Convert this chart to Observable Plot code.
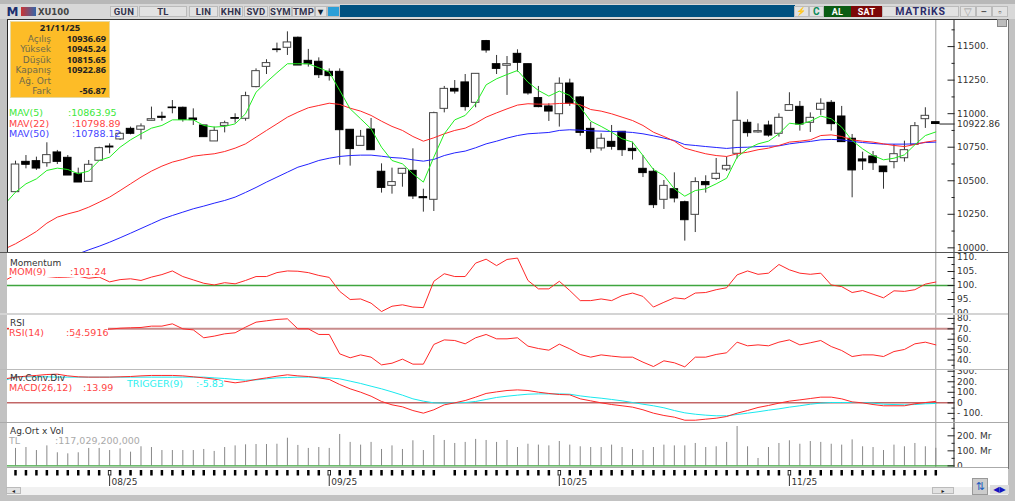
<!DOCTYPE html>
<html><head><meta charset="utf-8">
<script src="https://cdn.jsdelivr.net/npm/d3@7"></script>
<script src="https://cdn.jsdelivr.net/npm/@observablehq/plot@0.6"></script>
<style>
html,body{margin:0;padding:0;background:#c2c2c2;overflow:hidden}
#root{position:relative;width:1015px;height:501px;overflow:hidden;font-family:"DejaVu Sans",sans-serif}
#root>*{position:absolute}
.b{box-sizing:border-box;display:flex;align-items:center;justify-content:center;white-space:nowrap}
</style></head><body><div id="root"></div>
<script>
const open=[10415,10641,10646,10631,10711,10671,10552,10492,10649,10755,10808,10887,10880,10947,10977,11046,11044,10964,10912,10793,10909,10967,10962,11198,11349,11479,11491,11566,11394,11387,11312,11312,10880,10760,10882,10567,10462,10552,10574,10378,10358,11036,11185,11233,11081,11541,11369,11357,11446,11369,11116,11054,10996,11225,11121,10887,10741,10790,10865,10738,10589,10567,10358,10437,10340,10246,10490,10514,10584,10701,10932,10860,10912,10850,11021,11051,10932,11029,11081,10979,10813,10659,10681,10606,10639,10668,10768,10959,10936.69];
const close=[10621,10619,10591,10691,10641,10539,10487,10619,10743,10748,10850,10850,10905,10959,10969,11041,10954,10952,10825,10872,10929,10962,11131,11317,11377,11474,11531,11359,11369,11287,11280,10877,10736,10828,10728,10447,10490,10589,10383,10370,11004,11185,11165,11049,11297,11471,11334,11369,11379,11151,11049,11016,11223,11074,10857,10736,10813,10753,10728,10721,10557,10318,10462,10368,10206,10490,10467,10552,10611,10947,10855,10870,10837,10969,11064,10919,10969,11074,10922,10788,10577,10644,10631,10564,10698,10728,10907,10984,10922.86];
const high=[10646,10688,10676,10783,10726,10688,10594,10651,10750,10775,10862,10900,10924,11049,11011,11098,11049,11036,10912,10900,10944,10999,11160,11334,11402,11526,11610,11571,11479,11416,11334,11334,10880,10875,10964,10626,10594,10589,10738,10437,11011,11203,11247,11292,11297,11546,11434,11426,11476,11369,11203,11074,11267,11257,11128,10934,10850,10912,10865,10788,10688,10589,10502,10559,10348,10522,10537,10666,10676,11163,10954,10924,10944,10999,11156,11091,11006,11111,11098,11054,10845,10713,10718,10606,10770,10795,10934,11044,10936.69];
const low=[10415,10589,10577,10601,10621,10539,10487,10492,10649,10701,10800,10842,10805,10947,10944,10999,10937,10912,10825,10793,10857,10929,10944,11193,11292,11454,11434,11359,11347,11262,11243,10616,10609,10760,10728,10408,10400,10452,10360,10266,10271,11006,11146,11019,11044,11451,11292,11136,11310,11138,11044,10942,10900,11054,10832,10706,10721,10728,10681,10654,10524,10293,10286,10335,10050,10114,10408,10502,10569,10663,10825,10855,10825,10825,11021,10870,10860,10987,10870,10788,10373,10577,10577,10437,10589,10639,10768,10890,10922.86];
const mav5=[10328,10415,10477,10514,10577,10594,10584,10552,10572,10651,10676,10750,10805,10850,10892,10912,10954,10954,10954,10912,10900,10905,10924,10999,11160,11235,11305,11372,11372,11372,11342,11310,11173,11036,10962,10887,10750,10651,10626,10552,10490,10676,10850,10954,10987,11074,11215,11260,11292,11322,11235,11173,11131,11168,11136,11049,10944,10905,10862,10813,10788,10688,10584,10539,10440,10385,10427,10440,10477,10519,10676,10738,10775,10795,10850,10929,10919,10944,10982,10962,10900,10800,10738,10688,10656,10668,10693,10768,10837,10863.95];
const mav22=[9993,10030,10075,10122,10184,10229,10253,10273,10303,10340,10378,10427,10477,10527,10572,10609,10639,10659,10683,10693,10701,10718,10743,10775,10825,10875,10924,10974,11011,11044,11061,11078,11069,11041,11019,10987,10944,10905,10875,10830,10795,10820,10850,10875,10892,10929,10974,11006,11036,11064,11074,11071,11071,11076,11078,11066,11031,11019,10999,10974,10949,10912,10862,10830,10795,10743,10721,10701,10688,10681,10701,10713,10731,10743,10763,10788,10795,10805,10837,10842,10830,10805,10795,10788,10775,10763,10755,10770,10788,10798.89];
const mav50Start=6;
const mav50=[9955,9985,10012,10042,10075,10109,10144,10179,10214,10241,10266,10291,10311,10333,10353,10378,10413,10450,10490,10527,10564,10601,10624,10651,10668,10681,10688,10691,10691,10683,10673,10668,10656,10646,10659,10688,10708,10721,10746,10775,10795,10818,10837,10850,10855,10860,10875,10880,10877,10872,10870,10867,10865,10860,10850,10835,10818,10800,10770,10763,10755,10748,10741,10748,10750,10755,10758,10760,10775,10785,10793,10805,10808,10805,10793,10785,10778,10773,10773,10773,10775,10785,10788.12];
const momentum=[101.8,103.9,104.2,103.9,103.2,102.9,103.0,103.3,102.6,103.0,101.3,102.1,102.4,101.8,103.0,103.9,105.2,103.2,102.0,100.8,100.2,101.0,100.6,101.8,103.2,103.2,104.6,105.2,105.1,104.6,103.6,102.9,97.9,95.0,95.2,93.7,90.7,92.6,93.1,92.3,92.1,101.5,104.2,103.2,103.2,108.0,109.4,107.1,109.3,109.8,101.8,98.8,98.8,101.5,98.2,94.6,94.6,95.2,94.6,96.4,97.3,96.1,92.3,94.0,95.6,95.2,97.3,97.5,98.5,99.2,103.8,105.2,104.0,104.4,107.5,105.6,104.4,104.0,104.4,100.2,99.6,97.5,98.2,96.9,95.6,98.1,97.9,98.5,100.5,101.24];
const rsi=[70,71,67.8,65.2,66.8,65.2,63.6,62,65.2,68.4,69.7,70.6,71,71.3,72.6,72.6,74.8,70,69,61.4,63,65.2,66.2,71.6,76.4,77.7,79,79.6,70,70,64.6,64.6,46,42.2,45,42.8,35.4,37,40.9,36.1,36.1,55,59.4,58.8,55.6,61.4,64.6,60.4,60.4,61.4,53.4,51.1,49.5,55.3,50.8,45.4,42.8,45,43.8,42.8,42.8,38,33.8,39.3,37.4,33.5,42.8,42.8,45.4,47,57.2,53.7,54.6,53.7,57.2,59.4,54.6,56.6,58.8,53,49.2,43.4,45,45,43.4,48.2,50.2,55.6,57.2,54.59];
const macd=[228,244,253,260,269,272,256,247,244,244,244,247,250,256,260,260,260,256,247,237,225,206,190,203,222,237,253,266,256,250,237,222,174,133,101,63,13,-19,-38,-73,-98,-66,-19,0,22,54,89,104,117,123,117,101,89,79,76,38,19,0,-16,-28,-41,-66,-98,-120,-136,-165,-165,-155,-146,-130,-98,-73,-44,-25,-3,16,28,41,54,54,38,9,0,-16,-28,-28,-28,-9,3,13.99];
const trigger=[212,250,247,247,247,244,244,244,244,244,244,244,244,244,244,244,244,244,244,244,237,231,222,215,218,228,237,240,244,244,244,237,228,206,184,158,133,104,73,38,16,0,-3,0,3,13,32,51,63,73,82,85,85,85,82,66,54,44,32,19,3,-13,-28,-47,-73,-95,-108,-117,-123,-123,-111,-98,-85,-70,-57,-41,-28,-13,-3,3,3,3,3,-3,-13,-16,-19,-16,-9,-5.83];
const volume=[116,122,102,133,87,80,87,116,116,102,113,91,127,122,102,102,102,102,109,96,122,133,140,142,142,144,184,136,116,122,116,209,156,138,156,109,133,109,167,102,202,169,149,156,176,169,156,169,122,144,138,133,162,138,127,122,122,138,122,109,102,122,138,133,133,149,122,127,156,262,127,49,122,149,167,144,162,156,144,138,173,127,122,102,138,127,149,127,117.03];
const monthStarts=[9,30,52,74];
const monthLabels=["08/25","09/25","10/25","11/25"];
const skippedTick=41;
const priceTicks=[10000,10250,10500,10750,11000,11250,11500];
const priceMinor=[10125,10375,10625,10875,11125,11375,11625];
const momTicks=[90,95,100,105,110];
const momMinor=[92.5,97.5,102.5,107.5];
const rsiTicks=[40,50,60,70,80];
const rsiMinor=[35,45,55,65,75];
const macdTicks=[-100,0,100,200,300];
const macdMinor=[-150,-50,50,150,250];
const volTicks=[0,100,200];
const volMinor=[50,150,250];

const lastPrice=10922.86;
const N=close.length;
const xDomain=[-0.765,89.74];
const series=(arr,start)=>arr.map((v,k)=>({i:k+start,v}));
const candles=d3.range(N).map(i=>({i,o:open[i],c:close[i],h:high[i],l:low[i],up:close[i]>=open[i]}));
const bw=0.36;
const root=document.getElementById("root");
const FONT='"DejaVu Sans",sans-serif';

function panel(top,height,yDomain,marks){
  const p=Plot.plot({width:1001,height,marginTop:0,marginBottom:0,marginLeft:0,marginRight:54.5,
    x:{domain:xDomain,axis:null,label:null},y:{domain:yDomain,axis:null,label:null},
    style:{fontFamily:FONT,fontSize:"9px",background:"white",color:"#333",overflow:"hidden"},
    marks});
  p.style.left="7px";p.style.top=top+"px";p.style.position="absolute";
  root.appendChild(p);return p;
}
const cursor=Plot.ruleX([88],{stroke:"#999",strokeWidth:1});
const spine=Plot.ruleX([xDomain[1]],{stroke:"#222",strokeWidth:1});
function axes(ticks,minor,fmt){return [
  Plot.axisY(ticks,{anchor:"right",label:null,tickSize:-7,tickPadding:10,tickFormat:fmt,stroke:"#222",fill:"#333"}),
  Plot.axisY(minor,{anchor:"right",label:null,tickSize:-3,tickPadding:10,tickFormat:()=>"",stroke:"#222"})
];}
const dotted=d=>d+".";
const line=(arr,start,stroke,w=1)=>Plot.line(series(arr,start),{x:"i",y:"v",stroke,strokeWidth:w,clip:true,curve:"linear"});

// main
panel(19,233,[9965.2,11702],[
  cursor,spine,
  Plot.ruleX(candles,{x:"i",y1:"l",y2:"h",stroke:"#333",strokeWidth:1}),
  Plot.rect(candles,{x1:d=>d.i-bw,x2:d=>d.i+bw,y1:d=>Math.min(d.o,d.c),y2:d=>Math.max(d.o,d.c),
    fill:d=>d.up?"white":"black",stroke:d=>d.up?"#444":"black",strokeWidth:1}),
  line(mav50,mav50Start,"#2222ff"),
  line(mav22,-1,"#ff2828"),
  line(mav5,-1,"#22ee22"),
  ...axes(priceTicks,priceMinor,dotted),
  Plot.axisY([lastPrice],{anchor:"right",label:null,tickSize:-15,tickPadding:18,tickFormat:d=>d.toFixed(2),stroke:"#222",fill:"#333"})
]);
// momentum
panel(253,60,[90,111.43],[
  cursor,spine,
  Plot.ruleY([100],{stroke:"#3fa53f",strokeWidth:1.4}),
  line(momentum,-1,"#ff2828"),
  ...axes(momTicks,momMinor,dotted)
]);
// RSI
panel(315,54,[30.96,82.8],[
  cursor,spine,
  Plot.ruleY([70],{stroke:"#c88c8c",strokeWidth:2}),
  line(rsi,-1,"#ff2828"),
  ...axes(rsiTicks,rsiMinor,dotted)
]);
// MACD
panel(370,52,[-186.7,307],[
  cursor,spine,
  Plot.ruleY([0],{stroke:"#a51c1c",strokeWidth:1}),
  line(trigger,-1,"#19e8ee"),
  line(macd,-1,"#ff2828"),
  ...axes(macdTicks,macdMinor,d=>d===0?"0":(d<0?"- "+(-d)+".":d+"."))
]);
// volume
panel(423,44,[-11,282],[
  cursor,spine,
  Plot.ruleX(volume.map((v,i)=>({i,v})),{x:"i",y1:0,y2:"v",stroke:"#888",strokeWidth:1}),
  Plot.ruleY([0],{stroke:"#3fa53f",strokeWidth:1.4}),
  ...axes(volTicks,volMinor,d=>d===0?"0":d+". Mr")
]);
// date axis
const dateTicks=d3.range(N).filter(i=>i!==skippedTick&&!monthStarts.includes(i));
panel(468,19,[0,1],[
  Plot.tickX(dateTicks,{x:d=>d,stroke:"black",strokeWidth:2.5,insetTop:2,insetBottom:11.5}),
  Plot.tickX(monthStarts,{x:d=>d,stroke:"#222",strokeWidth:3.5,insetTop:2,insetBottom:11.5}),
  Plot.tickX(monthStarts,{x:d=>d,stroke:"white",strokeWidth:1.5,insetTop:3,insetBottom:12.5}),
  Plot.tickX(monthStarts,{x:d=>d,stroke:"#333",strokeWidth:1,insetTop:7.5,insetBottom:1}),
  Plot.text(monthLabels,{x:(d,k)=>monthStarts[k],frameAnchor:"bottom",textAnchor:"start",dx:2,dy:-3,fill:"#333",fontSize:9})
]);

// chrome + labels
function box(l,t,w,h,css,html,cls){
  const d=document.createElement("div");
  d.style.cssText=`left:${l}px;top:${t}px;width:${w}px;height:${h}px;${css||""}`;
  if(cls)d.className=cls; if(html!=null)d.innerHTML=html;
  root.appendChild(d);return d;
}
function label(l,cy,text,color,fs=9.5,extra=""){
  const d=document.createElement("div");
  d.style.cssText=`left:${l}px;top:${cy-5}px;height:10px;line-height:10px;font-size:${fs}px;color:${color};white-space:nowrap;${extra}`;
  d.textContent=text;root.appendChild(d);return d;
}
// separators
box(0,252,1008,1,"background:#555");
box(0,313,1008,2,"background:#d4d4d4");
box(0,369,1008,1,"background:#bbb");
box(0,422,1008,1,"background:#aaa");
box(7,467,1001,1,"background:#aaa");
box(7,19,1,233,"background:#222");
box(7,18.5,1001,1,"background:#333");
box(1008,19,1,450,"background:#777");
box(7,487,1001,8,"background:#f1f1f1");
box(997,19,10,8,"background:#bdbdbd;border:1px solid #888;box-sizing:border-box");
// toolbar
box(0,0,1015,4,"background:#b8b8b8");
box(0,4,1015,15,"background:#d8d8d8");
box(340,5,455,12,"background:#005180");
const btn=(l,w,t,css="")=>box(l,6,w,11,`background:#e2e2e2;color:#33334d;font-family:Roboto;font-size:9.5px;font-weight:700;letter-spacing:.3px;border:1px solid #bbb;${css}`,t,"b");
box(7,5,11,13,"color:#1c2e6e;font-size:12px;font-weight:800;","M","b");
box(21,7,15,9,"background:linear-gradient(90deg,#c33,#36a);");
box(38,5,31,13,"color:#444;font-size:8.5px;font-weight:700;","XU100","b");
btn(110,28,"GUN");btn(139,48,"TL");btn(189,29,"LIN");btn(219,24,"KHN");btn(244,24,"SVD");btn(269,23,"SYM");btn(292,23,"TMP");
btn(315,12,"▾","color:#123");btn(327,13,"","background:#2b9fd8");
btn(794,15,"⚡","color:#e09020;font-size:8px");btn(809,15,"C","color:#0a8a5a;font-size:10px");
btn(824,27,"AL","background:#0b5c14;color:#fff;font-size:9px;border-color:#0b5c14");
btn(851,31,"SAT","background:#7c0808;color:#fff;font-size:9px;border-color:#7c0808");
btn(882,77,"MATRiKS","color:#2c2c6a;font-size:10.5px;letter-spacing:.8px");
btn(960,16,"▽","color:#999;font-weight:400");btn(976,16,"–","color:#555");btn(992,16,"▫","color:#555");
// info box
box(10,21,100,77,"background:#fdbc27;border:1px solid #e8d9a0;box-sizing:border-box");
const infoRows=[["Açılış","10936.69",38.5],["Yüksek","10945.24",49],["Düşük","10815.65",59.5],["Kapanış","10922.86",70],["Ağ. Ort","",80.5],["Fark","-56.87",91]];
label(10,28,"21/11/25","#222",9.5,"width:100px;text-align:center;font-weight:700;font-family:'Noto Sans'");
for(const [a,b,y] of infoRows){
  label(10,y,a,"#6f6a4a",9,"width:41px;text-align:right");
  label(55,y,b,"#222",9.2,"width:51px;text-align:right;font-weight:700;font-family:'Noto Sans'");
}
// MAV legend
label(9,113,"MAV(5)","#3be83b");label(68,113,":10863.95","#3be83b");
label(9,123.5,"MAV(22)","#f44");label(72,123.5,":10798.89","#f44");
label(9,134,"MAV(50)","#44f");label(72,134,":10788.12","#44f");
// momentum
box(9,267,97,9.5,"background:#fff");
label(10,262.5,"Momentum","#333",9);
label(9,272,"MOM(9)","#f44");label(70,272,":101.24","#f44");
// rsi
box(9,327,99,10,"background:#fff");
label(10,322.5,"RSI","#333",9);
label(9,332.7,"RSI(14)","#f44");label(66,332.7,":54.5916","#f44");
// macd
label(10,378,"Mv.Conv.Div","#333",9);
box(9,383,105,10,"background:#fff");
box(126,380,98,9,"background:#fff");
label(9,388,"MACD(26,12)","#f44");label(83,388,":13.99","#f44");
label(127,384,"TRIGGER(9)","#2ef0f0");label(196,384,":-5.83","#2ef0f0");
// volume
label(10,431,"Ag.Ort x Vol","#333",9);
label(9,441,"TL","#aaa");label(55,441,":117,029,200,000","#aaa");
// scrollbar and corner
box(6,487,15,7,"background:#e2e2e2;border:1px solid #bbb;font-size:6px;color:#222;box-sizing:border-box","◂","b");
box(932,487,22,7,"background:#e2e2e2;border:1px solid #bbb;font-size:6px;color:#222;box-sizing:border-box","▸","b");
box(972,478,16,17,"background:#ccc;border:1px solid #999;color:#1d5cc0;font-size:11px;box-sizing:border-box","⇅","b");
box(990,485,19,9,"background:#ddd;color:#1414c0;font-size:8px","◀▶","b");
</script></body></html>
